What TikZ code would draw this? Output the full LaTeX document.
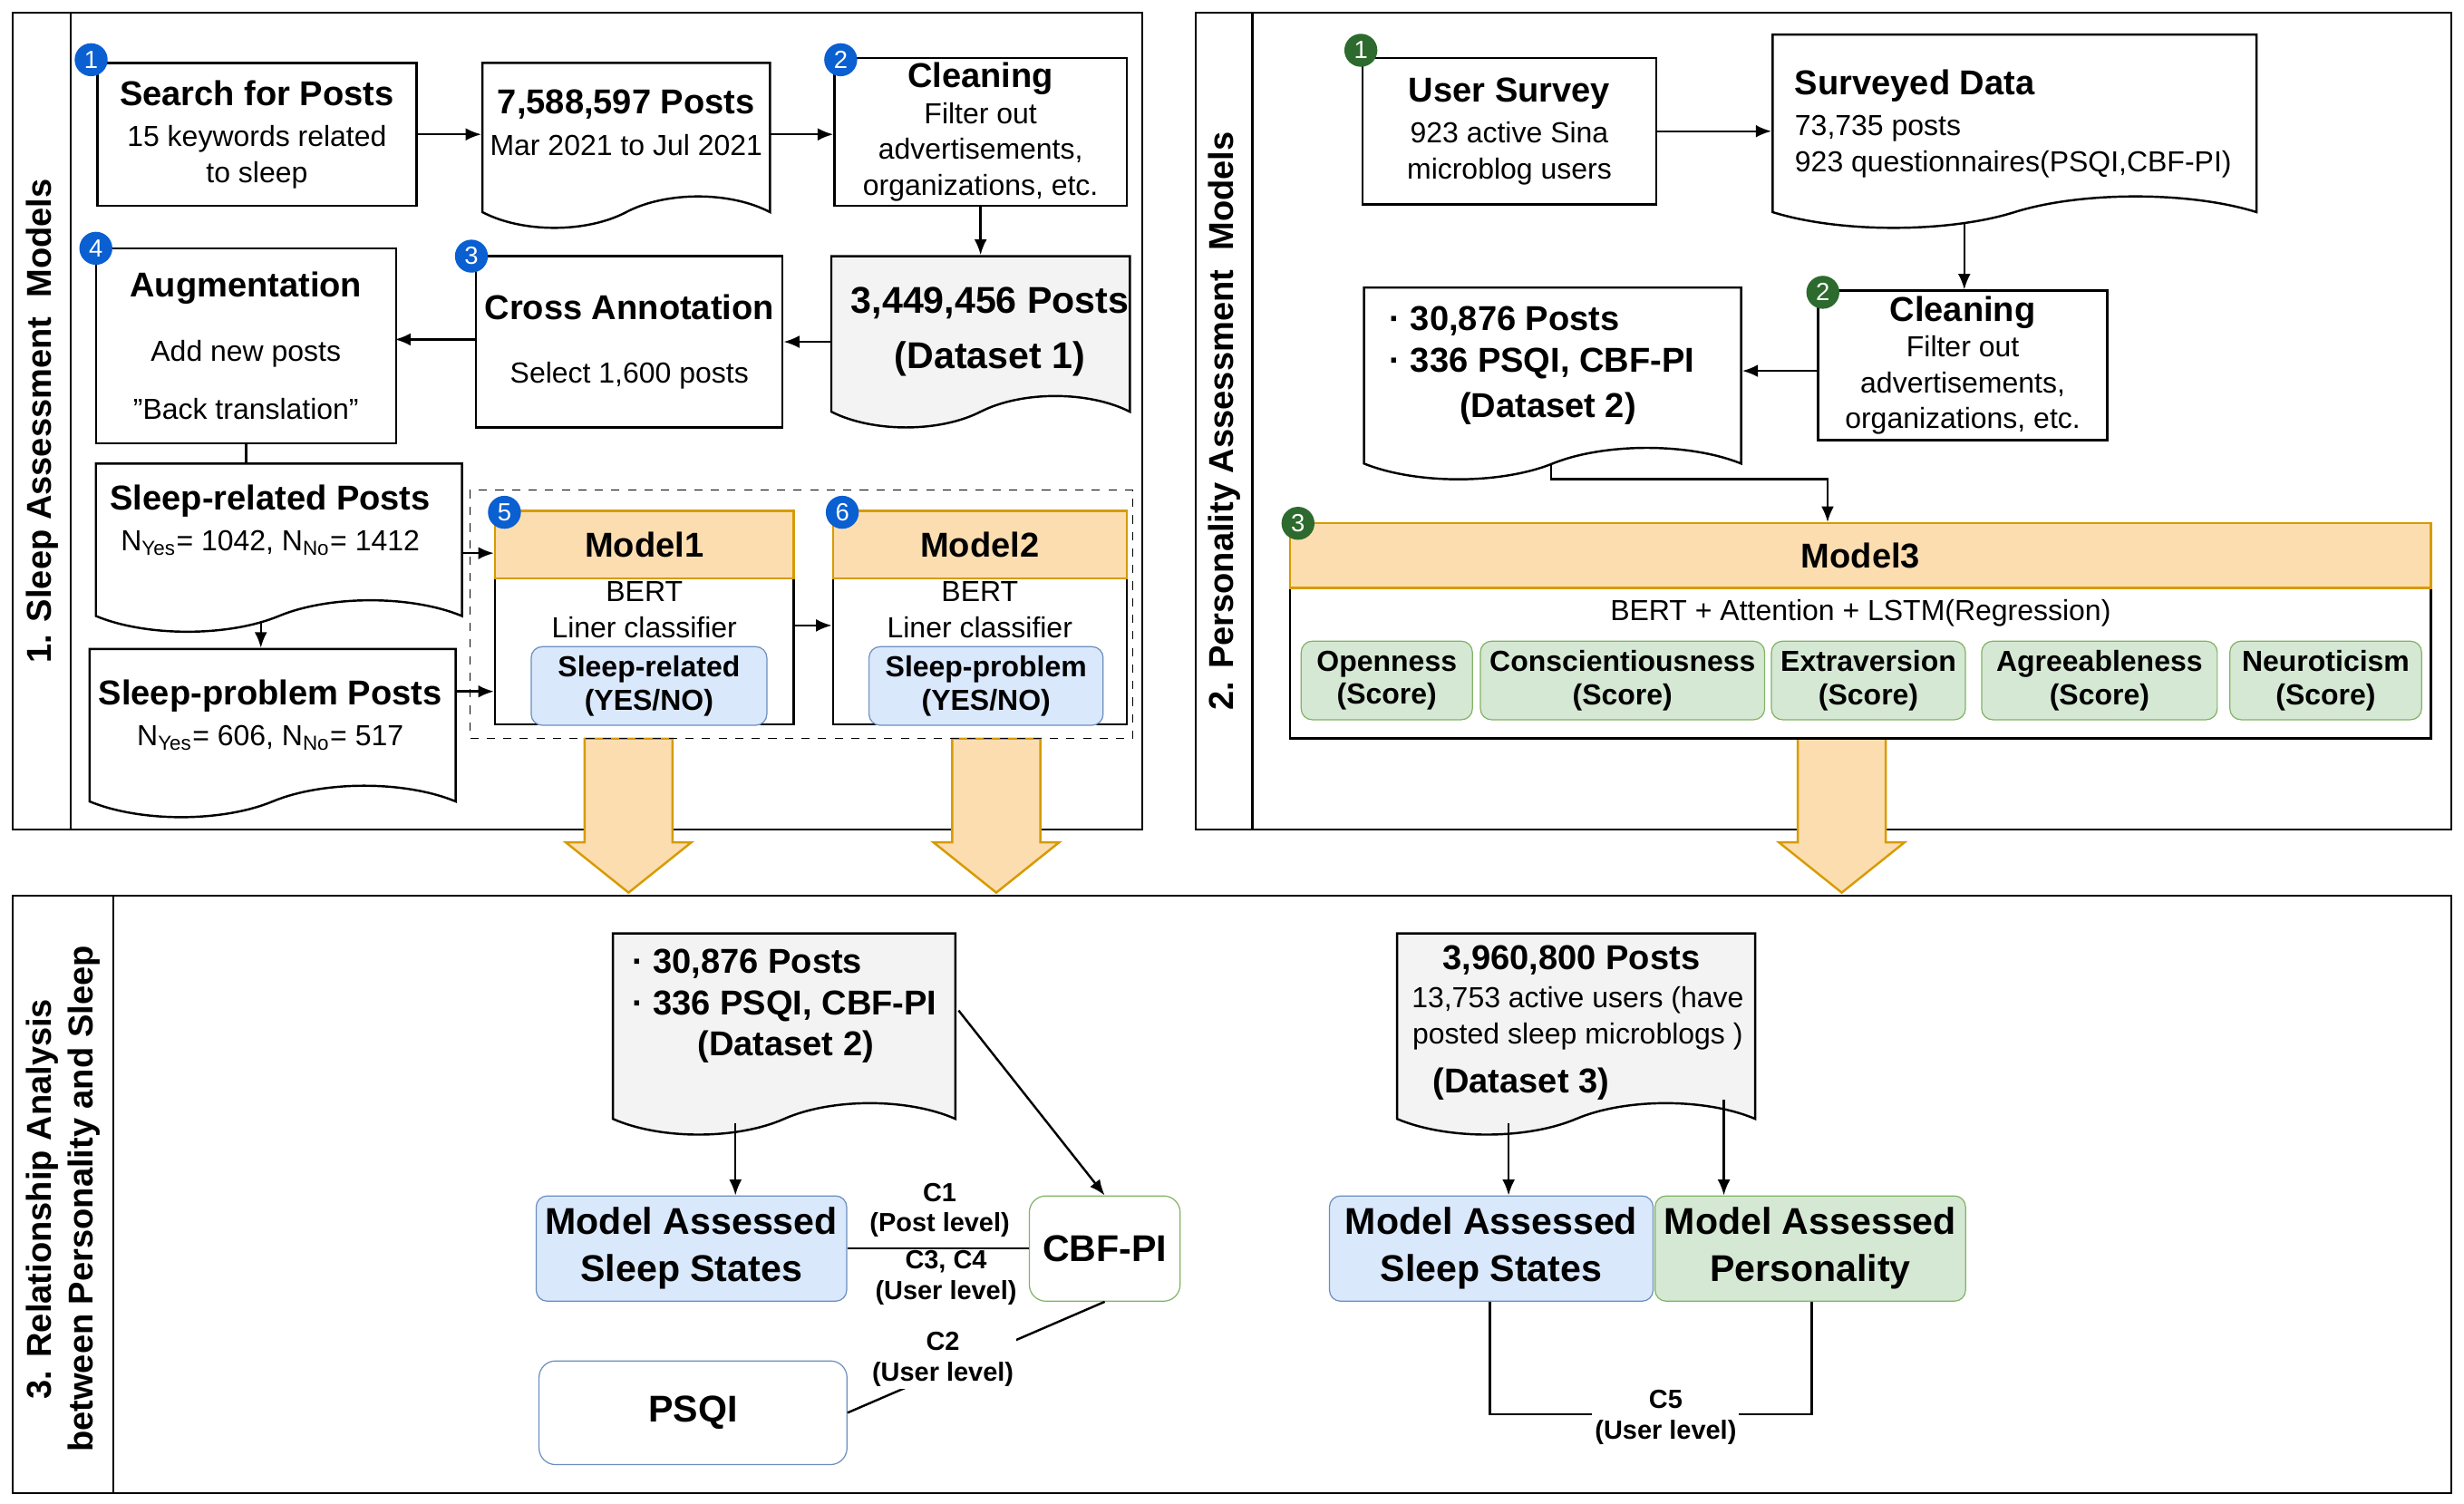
\documentclass[tikz,border=0pt]{standalone}
\usepackage{fontspec}
\setmainfont{Liberation Sans}
\usetikzlibrary{shapes.symbols,arrows.meta}
\definecolor{ofill}{HTML}{FCDDB0}\definecolor{oline}{HTML}{D79B00}
\definecolor{bfill}{HTML}{DAE8FC}\definecolor{bline}{HTML}{6C8EBF}
\definecolor{gfill}{HTML}{D5E8D4}\definecolor{gline}{HTML}{82B366}
\definecolor{dfill}{HTML}{F3F3F3}\definecolor{bbadge}{HTML}{0A5FD1}\definecolor{gbadge}{HTML}{2D6A2E}
\newcommand\ttl{\fontsize{12.5}{15}\selectfont\bfseries}
\newcommand\bttl{\fontsize{13.5}{17}\selectfont\bfseries}
\newcommand\ndd[1]{N\textsubscript{#1}}
\begin{document}
\begin{tikzpicture}[x=0.02cm,y=-0.02cm,
 every node/.style={font=\fontsize{10.5}{13}\selectfont},
 box/.style={draw,thick,align=center,inner sep=1pt},
 doc/.style={draw,thick,tape,tape bend top=none,tape bend height=0.4cm,inner sep=0pt},
 hdr/.style={draw=oline,thick,fill=ofill,font=\ttl},
 blu/.style={draw=bline,fill=bfill,rounded corners=4pt,align=center,font=\bfseries\fontsize{10.5}{12}\selectfont},
 grn/.style={draw=gline,fill=gfill,rounded corners=4pt,align=center,font=\bfseries\fontsize{10.5}{12}\selectfont},
 badge/.style={circle,fill=#1,text=white,minimum size=0.42cm,inner sep=0pt,font=\fontsize{9}{9}\selectfont},
 arr/.style={-{Latex[length=2mm,width=1.6mm]},thick},
 lbl/.style={font=\bfseries\fontsize{9.5}{11}\selectfont,align=center,fill=white,inner sep=1pt},
 rlab/.style={rotate=90,font=\ttl,align=center}]
\useasboundingbox (0,0) rectangle (1568,957);
% panels
\draw[thick] (8,8) rectangle (727,528); \draw[thick] (45,8)--(45,528);
\draw[thick] (761,8) rectangle (1560,528); \draw[thick] (797,8)--(797,528);
\draw[thick] (8,570) rectangle (1560,950); \draw[thick] (72,570)--(72,950);
\node[rlab] (p1) at (27,268) {1. Sleep Assessment\ \ Models};
\node[rlab] (p2) at (779,268) {2. Personality Assessment\ \ Models};
\node[rlab] (p3) at (40,763) {3. Relationship Analysis\\between Personality and Sleep};
% big arrows
\foreach \x in {400,634,1172}{
 \draw[oline,fill=ofill,thick] (\x-28,470)--(\x+28,470)--(\x+28,536)--(\x+40,536)--(\x,568)--(\x-40,536)--(\x-28,536)--cycle;}
% panel 1
\node[box,minimum width=4.06cm,minimum height=1.82cm] (search) at (163.5,85.5) {{\ttl Search for Posts}\\[2pt]15 keywords related\\to sleep};
\node[doc,minimum width=3.66cm,minimum height=2.1cm] (posts7) at (398.5,82.5) {};
\node (posts7t) at (398.5,78) [align=center] {{\ttl 7,588,597 Posts}\\[2pt]Mar 2021 to Jul 2021};
\node[box,minimum width=3.72cm,minimum height=1.88cm] (clean) at (624,84) {{\ttl Cleaning}\\Filter out\\advertisements,\\organizations, etc.};
\node[doc,fill=dfill,minimum width=3.8cm,minimum height=2.18cm] (ds1) at (624,207.5) {};
\node (ds1t) at (630,211) [align=center,font=\bttl] {3,449,456 Posts\\[3pt](Dataset 1)};
\node[box,minimum width=3.9cm,minimum height=2.18cm] (cross) at (400.5,217.5) {{\ttl Cross Annotation}\\[10pt]Select 1,600 posts};
\node[box,minimum width=3.82cm,minimum height=2.48cm] (aug) at (156.5,220) {{\ttl Augmentation}\\[10pt]Add new posts\\[8pt]\char34 Back translation\char34};
\node[doc,minimum width=4.66cm,minimum height=2.14cm] (srel) at (177.5,338.5) {};
\node (srelt) at (172,331) [align=center] {{\ttl Sleep-related Posts}\\[2pt]\ndd{Yes}= 1042, \ndd{No}= 1412};
\node[doc,minimum width=4.66cm,minimum height=2.14cm] (sprob) at (173.5,456.5) {};
\node (sprobt) at (172,455) [align=center] {{\ttl Sleep-problem Posts}\\[2pt]\ndd{Yes}= 606, \ndd{No}= 517};
\draw[dashed] (299,312) rectangle (721,470);
\node[draw,thick,minimum width=3.8cm,minimum height=2.72cm] (m1) at (410,393) {};
\node[hdr,minimum width=3.8cm,minimum height=0.86cm] (m1h) at (410,346.5) {Model1};
\node (m1t) at (410,388) [align=center] {BERT\\Liner classifier};
\node[blu,minimum width=3.0cm,minimum height=0.94cm] (m1i) at (413,436.5) {Sleep-related\\(YES/NO)};
\node[draw,thick,minimum width=3.74cm,minimum height=2.72cm] (m2) at (623.5,393) {};
\node[hdr,minimum width=3.74cm,minimum height=0.86cm] (m2h) at (623.5,346.5) {Model2};
\node (m2t) at (623.5,388) [align=center] {BERT\\Liner classifier};
\node[blu,minimum width=2.98cm,minimum height=0.94cm] (m2i) at (627.5,436.5) {Sleep-problem\\(YES/NO)};
\node[badge=bbadge] (b1) at (58,38) {1};
\node[badge=bbadge] (b2) at (535,38) {2};
\node[badge=bbadge] (b3) at (300,163) {3};
\node[badge=bbadge] (b4) at (61,158) {4};
\node[badge=bbadge] (b5) at (321,326) {5};
\node[badge=bbadge] (b6) at (536,326) {6};
\draw[arr] (search.east) -- (search.east -| posts7.west);
\draw[arr] (clean.west |- search.east) ++(-41,0) -- (clean.west |- search.east);
\draw[arr] (clean.south) -- (ds1.north);
\draw[arr] (ds1.west |- cross.east) -- (cross.east);
\draw[arr] (cross.west |- aug.east) ++(0,-4) -- ++(-51,0);
\draw[thick] (aug.south) -- (aug.south |- srel.north);
\draw[arr] (166,395) -- (sprob.north -| 166,0);
\draw[arr] (srel.east |- 0,352) -- (m1.west |- 0,352);
\draw[arr] (sprob.east |- 0,440) -- (m1.west |- 0,440);
\draw[arr] (m1.east |- 0,398) -- (m2.west |- 0,398);
% panel 2
\node[box,minimum width=3.74cm,minimum height=1.86cm] (us) at (960.5,83.5) {{\ttl User Survey}\\[2pt]923 active Sina\\microblog users};
\node[doc,minimum width=6.16cm,minimum height=2.46cm] (sd) at (1282,73.5) {};
\node[anchor=north west,align=left] (sdt) at (1136,38) {{\ttl Surveyed Data}\\[2pt]73,735 posts\\923 questionnaires(PSQI,CBF-PI)};
\node[box,minimum width=3.68cm,minimum height=1.9cm] (cl2) at (1249,232.5) {{\ttl Cleaning}\\Filter out\\advertisements,\\organizations, etc.};
\node[doc,minimum width=4.8cm,minimum height=2.44cm] (d2) at (988,234) {};
\node[anchor=north west,align=left,font=\ttl] (d2t) at (878,189) {· 30,876 Posts\\· 336 PSQI, CBF-PI};
\node[font=\ttl] (d2n) at (985,260) {(Dataset 2)};
\draw[arr] (us.east) -- (sd.west |- us.east);
\draw[arr] (1250,142) -- (cl2.north -| 1250,0);
\draw[arr] (cl2.west |- 0,236) -- (d2.east |- 0,236);
\node[draw,thick,minimum width=14.52cm,minimum height=2.74cm] (m3) at (1184,401.5) {};
\node[hdr,minimum width=14.52cm,minimum height=0.82cm] (m3h) at (1184,353.5) {Model3};
\draw[arr] (987,295) -- (987,305) -- (1163,305) -- (m3h.north -| 1163,0);
\node (m3t) at (1184,390) {BERT + Attention + LSTM(Regression)};
\node[grn,minimum width=2.18cm,minimum height=1cm] (t1) at (882.5,433) {Openness\\(Score)};
\node[grn,minimum width=3.54cm,minimum height=1cm] (t2) at (1032.5,433) {Conscientiousness\\(Score)};
\node[grn,minimum width=2.44cm,minimum height=1cm] (t3) at (1189,433) {Extraversion\\(Score)};
\node[grn,minimum width=3.0cm,minimum height=1cm] (t4) at (1336,433) {Agreeableness\\(Score)};
\node[grn,minimum width=2.44cm,minimum height=1cm] (t5) at (1480,433) {Neuroticism\\(Score)};
\node[badge=gbadge] (g1) at (866,32) {1};
\node[badge=gbadge] (g2) at (1160,186) {2};
\node[badge=gbadge] (g3) at (826,333) {3};
% panel 3
\node[doc,fill=dfill,minimum width=4.36cm,minimum height=2.56cm] (d2b) at (499,648) {};
\node[anchor=north west,align=left,font=\ttl] (d2bt) at (396,598) {· 30,876 Posts\\· 336 PSQI, CBF-PI};
\node[font=\ttl] (d2bn) at (500,666) {(Dataset 2)};
\node[blu,font=\bttl,minimum width=3.92cm,minimum height=1.34cm] (ms1) at (440,794.5) {Model Assessed\\Sleep States};
\node[draw=gline,fill=white,rounded corners=6pt,font=\bttl,minimum width=1.92cm,minimum height=1.34cm] (cbf) at (703,794.5) {CBF-PI};
\node[draw=bline,fill=white,rounded corners=6pt,font=\bttl,minimum width=3.92cm,minimum height=1.32cm] (psqi) at (441,899) {PSQI};
\draw[arr] (468,715) -- (ms1.north -| 468,0);
\draw[arr] (610,643) -- (cbf.north);
\draw[thick] (ms1.east) -- (cbf.west);
\draw[thick] (psqi.east) -- (cbf.south);
\node[lbl] (c1) at (598,770) {C1\\(Post level)};
\node[lbl,fill=none] (c34) at (602,813) {C3, C4\\(User level)};
\node[lbl] (c2) at (600,865) {C2\\(User level)};
\node[doc,fill=dfill,minimum width=4.56cm,minimum height=2.56cm] (d3) at (1003,648) {};
\node[font=\ttl] (d3a) at (1000,611) {3,960,800 Posts};
\node[align=center] (d3b) at (1004,648) {13,753 active users (have\\posted sleep microblogs )};
\node[font=\ttl] (d3c) at (968,690) {(Dataset 3)};
\node[blu,font=\bttl,minimum width=4.12cm,minimum height=1.34cm] (ms2) at (949,794.5) {Model Assessed\\Sleep States};
\node[grn,font=\bttl,minimum width=3.88cm,minimum height=1.34cm] (mp) at (1152,794.5) {Model Assessed\\Personality};
\draw[arr] (960,715) -- (ms2.north -| 960,0);
\draw[arr] (1097,700) -- (mp.north -| 1097,0);
\draw[thick] (ms2.south -| 948,0) -- (948,900) -- (1153,900) -- (mp.south -| 1153,0);
\node[lbl] (c5) at (1060,902) {C5\\(User level)};
\end{tikzpicture}
\end{document}
